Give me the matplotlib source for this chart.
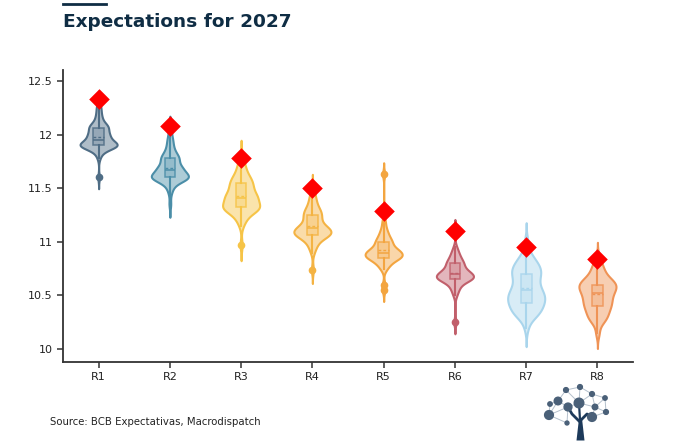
import numpy as np
import matplotlib.pyplot as plt
from matplotlib.colors import to_rgba
from matplotlib.lines import Line2D

plt.rcParams['font.family'] = ['DejaVu Sans']

# ---------- data (answers: value / number of answers) ----------
regions = ['R1', 'R2', 'R3', 'R4', 'R5', 'R6', 'R7', 'R8']

r1_vals = [11.60, 11.78, 11.82, 11.86, 11.88, 11.90, 11.92, 11.95, 11.98, 12.00,
           12.03, 12.06, 12.08, 12.10, 12.15, 12.20, 12.25, 12.30]
r1_cnts = [1, 1, 2, 3, 5, 12, 5, 6, 4, 5, 4, 4, 4, 3, 3, 2, 2, 1]

r2_vals = [11.35, 11.45, 11.50, 11.55, 11.58, 11.60, 11.62, 11.65, 11.68, 11.70,
           11.75, 11.78, 11.80, 11.85, 11.90, 11.95, 12.00, 12.05]
r2_cnts = [1, 1, 2, 3, 4, 10, 5, 4, 5, 5, 4, 3, 4, 3, 2, 2, 1, 1]

r3_vals = [10.97, 11.15, 11.20, 11.25, 11.30, 11.32, 11.35, 11.40, 11.42, 11.45,
           11.50, 11.55, 11.60, 11.65, 11.70, 11.75, 11.80]
r3_cnts = [1, 1, 2, 3, 6, 5, 5, 5, 4, 4, 5, 5, 4, 2, 2, 1, 1]

r4_vals = [10.74, 10.90, 10.95, 11.00, 11.05, 11.08, 11.10, 11.13, 11.15, 11.20,
           11.25, 11.30, 11.35, 11.40, 11.45, 11.50]
r4_cnts = [1, 1, 2, 3, 6, 6, 5, 4, 4, 4, 5, 4, 2, 2, 1, 1]

r5_vals = [10.55, 10.60, 10.75, 10.80, 10.85, 10.88, 10.90, 10.92, 10.95, 11.00,
           11.05, 11.10, 11.15, 11.20, 11.63]
r5_cnts = [1, 1, 2, 4, 8, 5, 4, 4, 4, 5, 3, 2, 1, 1, 1]

r6_vals = [10.25, 10.50, 10.55, 10.60, 10.65, 10.68, 10.70, 10.72, 10.75, 10.80,
           10.85, 10.90, 10.95, 11.10]
r6_cnts = [1, 1, 2, 3, 8, 5, 4, 3, 4, 5, 3, 2, 1, 1]

r7_vals = [10.20, 10.30, 10.35, 10.40, 10.45, 10.50, 10.55, 10.60, 10.65, 10.70,
           10.75, 10.80, 10.85, 10.90, 11.00]
r7_cnts = [1, 3, 4, 4, 5, 5, 4, 3, 3, 4, 4, 3, 2, 1, 1]

r8_vals = [10.15, 10.25, 10.30, 10.35, 10.40, 10.45, 10.50, 10.55, 10.60, 10.65,
           10.70, 10.75, 10.80, 10.85]
r8_cnts = [1, 2, 3, 3, 4, 4, 4, 5, 6, 4, 2, 2, 1, 1]

# red diamonds
expected = [12.33, 12.08, 11.78, 11.50, 11.29, 11.10, 10.95, 10.84]

colors = ['#4f6d85', '#4b8ea8', '#f6c447', '#f4b343',
          '#f3a540', '#c15f6b', '#a9d5ec', '#ef9356']

all_vals = [r1_vals, r2_vals, r3_vals, r4_vals, r5_vals, r6_vals, r7_vals, r8_vals]
all_cnts = [r1_cnts, r2_cnts, r3_cnts, r4_cnts, r5_cnts, r6_cnts, r7_cnts, r8_cnts]
samples = [np.repeat(v, c) for v, c in zip(all_vals, all_cnts)]


def kde_stats(x, bw_scale=0.65, span=3):
    # gaussian kde with a narrowed silverman bandwidth
    q1, med, q3 = np.percentile(x, [25, 50, 75])
    bw = bw_scale * 1.059 * min(x.std(ddof=1), (q3 - q1) / 1.349) * len(x) ** -0.2
    coords = np.linspace(x.min() - span * bw, x.max() + span * bw, 400)
    vals = np.exp(-0.5 * ((coords[:, None] - x[None, :]) / bw) ** 2).sum(axis=1)
    return dict(coords=coords, vals=vals, mean=x.mean(), median=med,
                min=x.min(), max=x.max())


# ---------- figure ----------
fig = plt.figure(figsize=(6.8, 4.45), dpi=100)
ax = fig.add_axes([0.0926, 0.1865, 0.8384, 0.6565])

pos = np.arange(len(regions))
parts = ax.violin([kde_stats(s) for s in samples], positions=pos, widths=0.52,
                  showextrema=False)
for body, c in zip(parts['bodies'], colors):
    body.set_alpha(None)
    body.set_facecolor(to_rgba(c, 0.45))
    body.set_edgecolor(c)
    body.set_linewidth(1.5)
    body.set_zorder(2)

bp = ax.boxplot(samples, positions=pos, widths=0.15, patch_artist=True,
                showmeans=True, meanline=True, showcaps=False, manage_ticks=False)
for i, c in enumerate(colors):
    bp['boxes'][i].set(facecolor=to_rgba(c, 0.25), edgecolor=to_rgba(c, 0.85),
                       linewidth=1.1, zorder=3)
    bp['medians'][i].set(color=c, linewidth=1.1, zorder=4)
    bp['means'][i].set(color=c, linewidth=1.0, linestyle=(0, (2, 1.5)), zorder=4)
    for w in bp['whiskers'][2 * i:2 * i + 2]:
        w.set(color=c, linewidth=1.5, zorder=3)
    bp['fliers'][i].set(marker='o', markerfacecolor=c, markeredgecolor=c,
                        markersize=4.5, zorder=4)

ax.scatter(pos, expected, marker='D', s=110, color='#ff0000', zorder=6, linewidths=0)

ax.set_xlim(-0.5, 7.5)
ax.set_ylim(9.879, 12.603)
ax.set_yticks([10, 10.5, 11, 11.5, 12, 12.5])
ax.set_yticklabels(['10', '10.5', '11', '11.5', '12', '12.5'])
ax.set_xticks(pos)
ax.set_xticklabels(regions)

for side in ['top', 'right']:
    ax.spines[side].set_visible(False)
for side in ['left', 'bottom']:
    ax.spines[side].set_color('#333333')
    ax.spines[side].set_linewidth(1.3)
ax.tick_params(length=4, width=1.1, color='#333333', labelsize=8, labelcolor='#222222')

# title, source, logo
fig.add_artist(Line2D([63 / 680, 106 / 680], [1 - 4 / 445] * 2, color='#0f2d44', lw=2.0))
fig.text(63 / 680, 1 - 22 / 445, 'Expectations for 2027', fontsize=13.3,
         fontweight='bold', color='#0f2d44', va='center')
fig.text(50 / 680, 1 - 422 / 445, 'Source: BCB Expectativas, Macrodispatch',
         fontsize=7.3, color='#222222', va='center')

logo = fig.add_axes([540 / 680, 2 / 445, 75 / 680, 62 / 445])
logo.set_xlim(540, 615)
logo.set_ylim(443, 381)
logo.axis('off')
node_x = [580, 566, 592, 605, 558, 579, 568, 595, 550, 549, 606, 592, 567]
node_y = [387, 390, 394, 398, 401, 403, 407, 407, 404, 415, 412, 417, 423]
node_s = [12, 12, 12, 10, 30, 48, 32, 16, 10, 40, 12, 40, 8]
edges = [(0, 1), (0, 2), (0, 5), (1, 4), (1, 5), (2, 3), (2, 5), (2, 7), (3, 10),
         (4, 8), (4, 6), (4, 9), (5, 6), (5, 7), (6, 9), (6, 12), (7, 10), (7, 11),
         (10, 11), (9, 12), (3, 7), (8, 9)]
for a, b in edges:
    logo.plot([node_x[a], node_x[b]], [node_y[a], node_y[b]], color='#b4c0cc', lw=0.7)
logo.scatter(node_x, node_y, s=node_s, color='#4a6078', zorder=3)
trunk_col = '#1d3a5a'
logo.fill_betweenx([418, 440], [578.5, 576], [581.5, 584], color=trunk_col, lw=0)
logo.plot([580, 572, 568], [422, 414, 407], color=trunk_col, lw=2.0)
logo.plot([580, 587, 592], [421, 414, 417], color=trunk_col, lw=2.0)
logo.plot([580, 579], [420, 403], color=trunk_col, lw=1.6)

fig.savefig('out.png', dpi=100)
